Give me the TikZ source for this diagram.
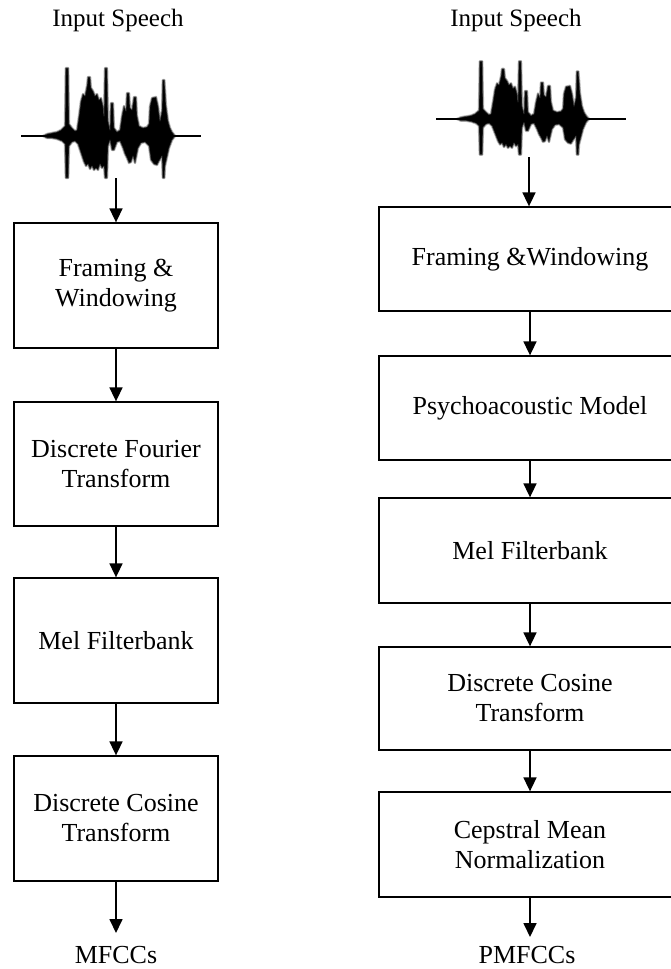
\documentclass[tikz,border=0pt]{standalone}
\usepackage{fontspec}
\setmainfont{Liberation Serif}
\usetikzlibrary{arrows.meta}
\tikzset{
  boxstyle/.style={draw=black, line width=1.3pt, rectangle, inner sep=0pt, align=center,
    font=\fontsize{26}{30}\selectfont},
  lbox/.style={boxstyle, minimum width=204pt},
  rbox/.style={boxstyle, minimum width=302pt},
  lbl/.style={inner sep=0pt, font=\fontsize{25}{30}\selectfont},
  outlbl/.style={inner sep=0pt, font=\fontsize{26}{30}\selectfont},
  arr/.style={line width=1.7pt, -{Triangle[length=14pt,width=13pt]}},
  axisline/.style={line width=2.8pt},
  wavehalo/.style={draw=black!30, line width=2.4pt, line join=round},
  wavefill/.style={fill=black, draw=black!75, line width=0.6pt, line join=round}
}
\newcommand{\wavepath}{%
   (-24,0) -- (-20,2) -- (-15,3) -- (-10,4) -- (-6,6) -- (-2,10) -- (-1.2,68) -- (1.2,68) -- (2,12) -- (5,8) -- (8,5) -- (10,6)
   -- (12,20) -- (14,35) -- (16,42) -- (18,40) -- (20,50) -- (21,59) -- (23,59) -- (24,48) -- (26,45) -- (28,40) -- (30,42)
   -- (32,36) -- (34,38) -- (36,30) -- (37,20) -- (38,68) -- (40,68) -- (41,15) -- (43,6) -- (44,33) -- (46,33) -- (47,8)
   -- (50,4) -- (53,6) -- (55,20) -- (57,30) -- (59,25) -- (60,43) -- (62,43) -- (63,28) -- (65,26) -- (67,39) -- (69,39)
   -- (70,20) -- (72,10) -- (76,8) -- (80,9) -- (82,12) -- (83,30) -- (85,38) -- (89,39) -- (91,30) -- (93,15) -- (95,25)
   -- (95.8,56) -- (97.4,56) -- (99,30) -- (101,15) -- (103,8) -- (105,4) -- (108,0)
   -- (105,-4) -- (102,-12) -- (98,-30) -- (97.4,-42) -- (95.8,-42) -- (95,-20) -- (92,-25) -- (90,-29) -- (87,-28) -- (84,-24)
   -- (82,-10) -- (78,-6) -- (74,-7) -- (71,-12) -- (69,-22) -- (68,-27) -- (66,-20) -- (64,-26) -- (62,-27) -- (60,-22)
   -- (58,-18) -- (56,-12) -- (53,-5) -- (50,-6) -- (47,-14) -- (45,-14) -- (43,-4) -- (41,-10) -- (40,-42) -- (38,-42)
   -- (37,-30) -- (35,-32) -- (33,-28) -- (31,-34) -- (29,-32) -- (27,-34) -- (25,-30) -- (23,-33) -- (21,-28) -- (19,-30)
   -- (17,-26) -- (15,-20) -- (13,-14) -- (11,-8) -- (8,-5) -- (5,-6) -- (2,-10) -- (1.2,-42) -- (-1.2,-42) -- (-2,-8)
   -- (-5,-5) -- (-10,-3) -- (-15,-2) -- (-20,-2) -- cycle}
\newcommand{\speechwave}{%
  \path[wavehalo] \wavepath;
  \path[wavefill] \wavepath;
}
\begin{document}
\begin{tikzpicture}[x=1pt, y=-1pt]
\useasboundingbox (0,0) rectangle (671,969);
\clip (0,0) rectangle (671,969);

% ---------- left column ----------
\node[lbl] (inL) at (118,20) {Input Speech};
\begin{scope}[shift={(67,136)}, yscale=-1]
  \speechwave
\end{scope}
\draw[axisline] (21,136) -- (201,136);
\coordinate (wL) at (116,178);

\node[lbox, minimum height=125pt] (L1) at (116,285.5) {Framing \&\\Windowing};
\node[lbox, minimum height=124pt] (L2) at (116,464) {Discrete Fourier\\Transform};
\node[lbox, minimum height=125pt] (L3) at (116,640.5) {Mel Filterbank};
\node[lbox, minimum height=125pt] (L4) at (116,818.5) {Discrete Cosine\\Transform};
\coordinate (oL) at (116,933);
\node[outlbl] (mfcc) at (116,955) {MFCCs};

\draw[arr] (wL) -- (L1.north);
\draw[arr] (L1.south) -- (L2.north);
\draw[arr] (L2.south) -- (L3.north);
\draw[arr] (L3.south) -- (L4.north);
\draw[arr] (L4.south) -- (oL);

% ---------- right column ----------
\node[lbl] (inR) at (516,20) {Input Speech};
\begin{scope}[shift={(481,119)}, yscale=-0.85]
  \speechwave
\end{scope}
\draw[axisline] (436,119) -- (626,119);
\coordinate (wR) at (529,157);

\node[rbox, minimum height=104pt] (R1) at (530,259) {Framing \&Windowing};
\node[rbox, minimum height=104pt] (R2) at (530,408) {Psychoacoustic Model};
\node[rbox, minimum height=105pt] (R3) at (530,550.5) {Mel Filterbank};
\node[rbox, minimum height=103pt] (R4) at (530,698.5) {Discrete Cosine\\Transform};
\node[rbox, minimum height=105pt] (R5) at (530,844.5) {Cepstral Mean\\Normalization};
\coordinate (oR) at (530,937);
\node[outlbl] (pmfcc) at (527,955) {PMFCCs};

\draw[arr] (wR) -- (wR |- R1.north);
\draw[arr] (R1.south) -- (R2.north);
\draw[arr] (R2.south) -- (R3.north);
\draw[arr] (R3.south) -- (R4.north);
\draw[arr] (R4.south) -- (R5.north);
\draw[arr] (R5.south) -- (oR);
\end{tikzpicture}
\end{document}
